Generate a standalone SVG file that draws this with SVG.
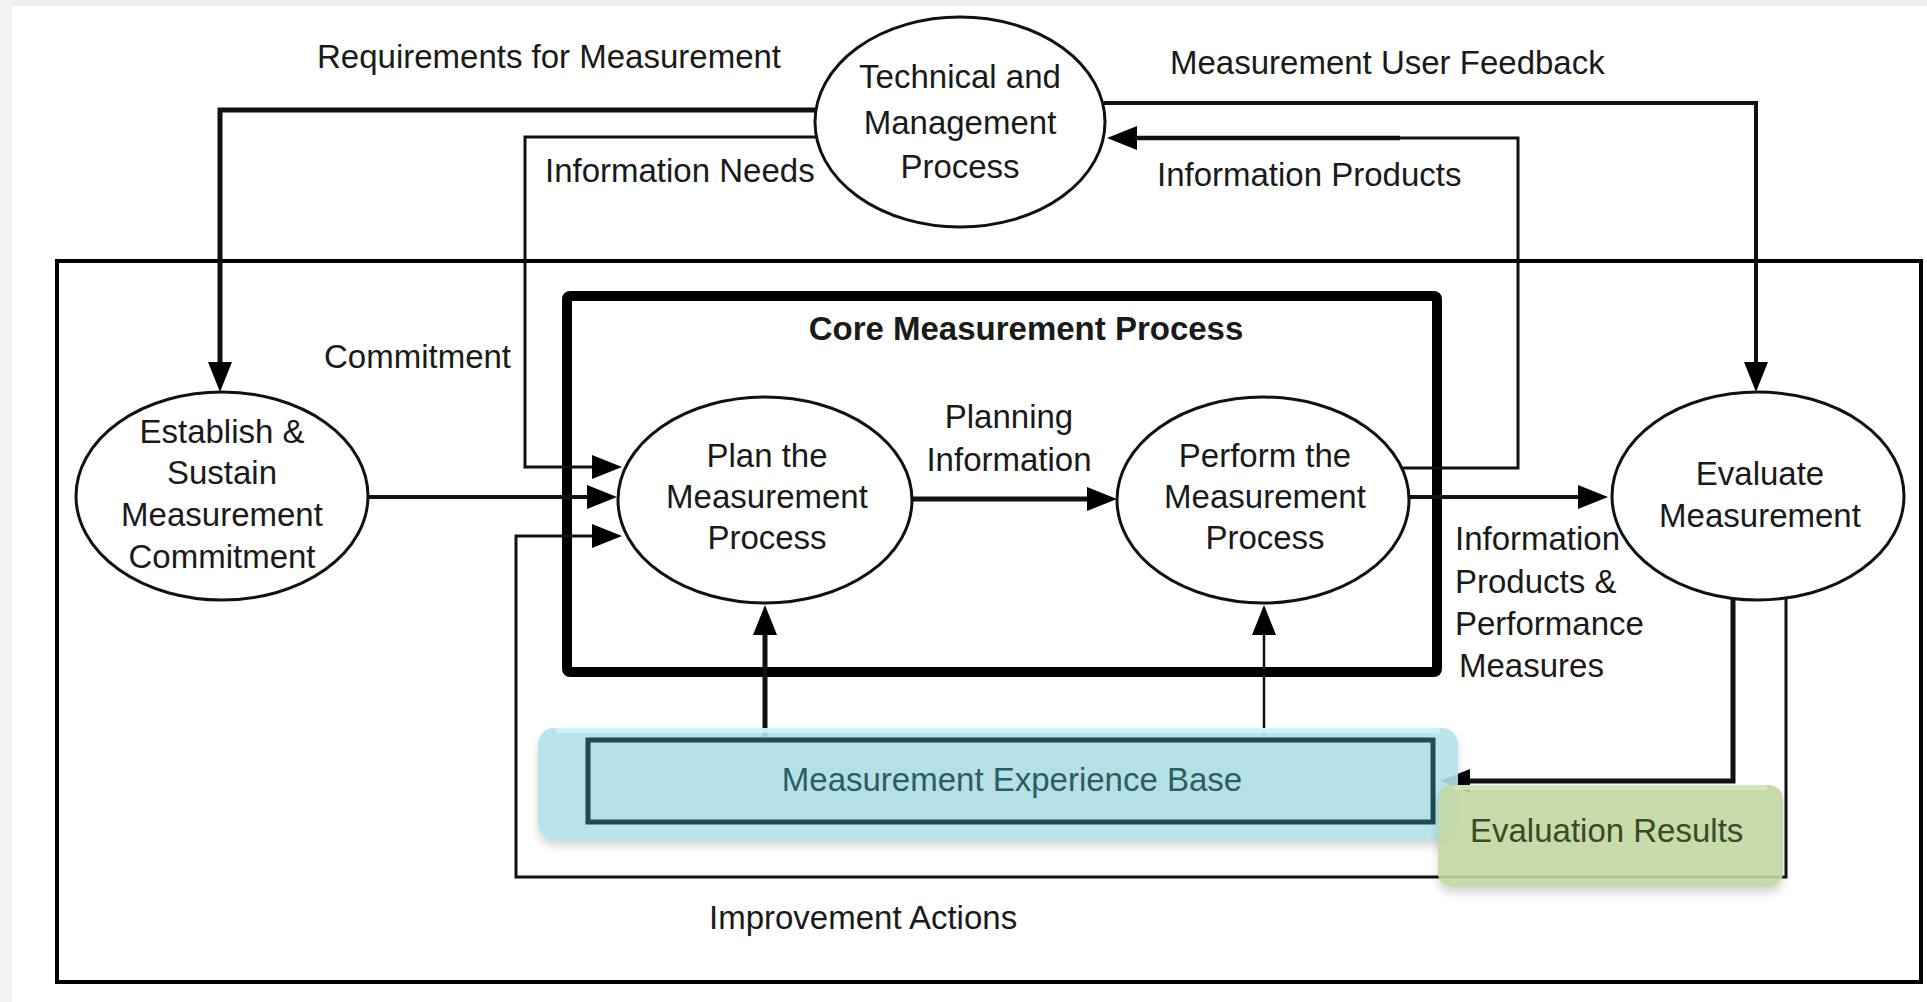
<svg xmlns="http://www.w3.org/2000/svg" width="1927" height="1002" viewBox="0 0 1927 1002">
<defs>
<style>
.t{font-family:"Liberation Sans",Arial,sans-serif;font-size:33px;fill:#1a1a1a}
.c{text-anchor:middle}
.b{font-weight:bold}
.ell{fill:#fff;stroke:#111;stroke-width:3}
.ln{fill:none;stroke:#111;stroke-linejoin:miter}
</style>
<marker id="ah" viewBox="0 0 30 24" refX="2" refY="12" markerWidth="30" markerHeight="24" markerUnits="userSpaceOnUse" orient="auto">
<path d="M0,0 L30,12 L0,24 z" fill="#000"/>
</marker>
<filter id="sh" x="-10%" y="-20%" width="120%" height="150%">
<feDropShadow dx="0" dy="6" stdDeviation="5" flood-color="#000" flood-opacity="0.18"/>
</filter>
</defs>
<rect x="0" y="0" width="1927" height="1002" fill="#fff"/>
<rect x="0" y="0" width="1927" height="6" fill="#efefef"/>
<rect x="0" y="0" width="12" height="1002" fill="#f2f2f2"/>

<g id="frame">
<rect x="57" y="261" width="1864" height="721" fill="none" stroke="#000" stroke-width="4"/>
</g>
<g id="core">
<rect x="567" y="296" width="870" height="376" rx="3" fill="none" stroke="#000" stroke-width="10"/>
<text class="t c b" x="1026" y="340">Core Measurement Process</text>
</g>

<g id="connectors">
<path class="ln" stroke-width="5" d="M816,110 H220 V364" marker-end="url(#ah)"/>
<path class="ln" stroke-width="4" d="M1104,103 H1756 V364" marker-end="url(#ah)"/>
<path class="ln" stroke-width="3" stroke="#444" d="M818,137 H525 V467 H594" marker-end="url(#ah)"/>
<path class="ln" stroke-width="3" d="M1401,468 H1518 V138 H1135" marker-end="url(#ah)"/>
<path class="ln" stroke-width="4.5" d="M1135,138 H1400"/>
<path class="ln" stroke-width="4" d="M368,497 H589" marker-end="url(#ah)"/>
<path class="ln" stroke-width="3" stroke="#222" d="M1786,597 V877 H516 V536 H594" marker-end="url(#ah)"/>
<path class="ln" stroke-width="5" d="M912,499 H1089" marker-end="url(#ah)"/>
<path class="ln" stroke-width="4" d="M1409,497 H1580" marker-end="url(#ah)"/>
<path class="ln" stroke-width="5" d="M1733,598 V781 H1468" marker-end="url(#ah)"/>
<path class="ln" stroke-width="5" d="M765,737 V633" marker-end="url(#ah)"/>
<path class="ln" stroke-width="2.5" d="M1264,737 V633" marker-end="url(#ah)"/>
</g>

<g id="tech">
<ellipse class="ell" cx="960" cy="122" rx="145" ry="105"/>
<text class="t c" x="960" y="88">Technical and</text>
<text class="t c" x="960" y="134">Management</text>
<text class="t c" x="960" y="178">Process</text>
</g>
<g id="establish">
<ellipse class="ell" cx="222" cy="496" rx="146" ry="104"/>
<text class="t c" x="222" y="443">Establish &amp;</text>
<text class="t c" x="222" y="484">Sustain</text>
<text class="t c" x="222" y="526">Measurement</text>
<text class="t c" x="222" y="568">Commitment</text>
</g>
<g id="plan">
<ellipse class="ell" cx="765" cy="500" rx="147" ry="103"/>
<text class="t c" x="767" y="467">Plan the</text>
<text class="t c" x="767" y="508">Measurement</text>
<text class="t c" x="767" y="549">Process</text>
</g>
<g id="perform">
<ellipse class="ell" cx="1263" cy="500" rx="146" ry="103"/>
<text class="t c" x="1265" y="467">Perform the</text>
<text class="t c" x="1265" y="508">Measurement</text>
<text class="t c" x="1265" y="549">Process</text>
</g>
<g id="evaluate">
<ellipse class="ell" cx="1758" cy="496" rx="146" ry="104"/>
<text class="t c" x="1760" y="485">Evaluate</text>
<text class="t c" x="1760" y="527">Measurement</text>
</g>

<g id="expbase">
<rect x="538" y="728" width="920" height="112" rx="16" fill="#b3e2e9" opacity="0.9" filter="url(#sh)"/>
<rect x="556" y="728" width="884" height="5" rx="2" fill="#d0f6fb" opacity="0.8"/>
<rect x="588" y="740" width="845" height="82" fill="#b6e0e6" stroke="#1f4b52" stroke-width="5"/>
<text class="t c" x="1012" y="791" style="fill:#2b5d63">Measurement Experience Base</text>
</g>
<g id="evalresults">
<rect x="1438" y="785" width="345" height="102" rx="14" fill="#c2d8a3" opacity="0.9" filter="url(#sh)"/>
<rect x="1454" y="785" width="313" height="5" rx="2" fill="#d7eabf" opacity="0.8"/>
<text class="t" x="1470" y="842" style="fill:#3b4a26">Evaluation Results</text>
</g>

<g id="labels">
<text class="t" x="317" y="68">Requirements for Measurement</text>
<text class="t" x="1170" y="74">Measurement User Feedback</text>
<text class="t" x="545" y="182">Information Needs</text>
<text class="t" x="1157" y="186">Information Products</text>
<text class="t" x="324" y="368">Commitment</text>
<text class="t c" x="1009" y="428">Planning</text>
<text class="t c" x="1009" y="471">Information</text>
<text class="t" x="1455" y="550">Information</text>
<text class="t" x="1455" y="593">Products &amp;</text>
<text class="t" x="1455" y="635">Performance</text>
<text class="t" x="1459" y="677">Measures</text>
<text class="t" x="709" y="929">Improvement Actions</text>
</g>
</svg>
